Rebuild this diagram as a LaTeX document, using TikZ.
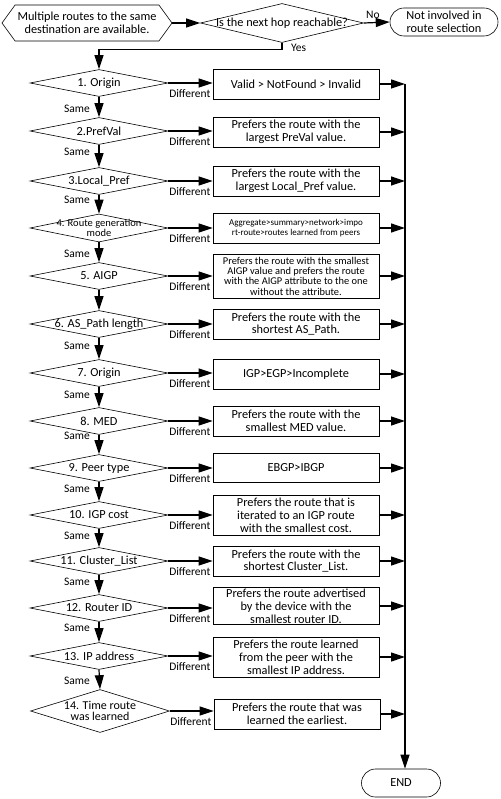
\documentclass[tikz,border=0pt]{standalone}
\usepackage{fontspec}
\setmainfont{Carlito}
\usetikzlibrary{shapes.geometric,shapes.symbols,arrows.meta}

\tikzset{
    every node/.append style={font=\fontsize{12.3}{12.8}\selectfont},
    decision/.style={diamond, draw, line width=0.6pt, minimum width=138pt,
        minimum height=27pt, inner sep=0pt},
    dtext/.style={align=center, inner sep=0pt},
    result/.style={rectangle, draw, line width=0.6pt, minimum width=166pt,
        minimum height=30pt, align=center, inner sep=0pt},
    terminal/.style={rectangle, rounded corners=14pt, draw, line width=0.6pt,
        minimum height=28pt, align=center, inner sep=0pt},
    arr/.style={line width=1.2pt, -{Triangle[length=14pt,width=9pt]}},
    tag/.style={inner sep=0pt, font=\fontsize{11.5}{12}\selectfont},
}

\begin{document}
\begin{tikzpicture}[x=1pt, y=-1pt]
    \useasboundingbox (0,0) rectangle (500,799);

    % start and reachability check
    \node[signal, signal to=west and east, signal pointer angle=108, draw,
        line width=0.6pt, minimum width=170pt, minimum height=36pt,
        inner sep=0pt, align=center] (start) at (87,23)
        {Multiple routes to the same\\destination are available.};
    \node[decision, minimum width=163pt, minimum height=39pt,
        label={[dtext]center:Is the next hop reachable?}] (hop) at (282,23) {};
    \node[terminal, minimum width=108pt] (skip) at (444,22)
        {Not involved in\\route selection};

    % decisions
    \node[decision, label={[dtext]center:1. Origin}] (d1) at (99,83) {};
    \node[decision, label={[dtext]center:2.PrefVal}] (d2) at (99,131) {};
    \node[decision, label={[dtext]center:3.Local\_Pref}] (d3) at (99,181) {};
    \node[decision, minimum height=28pt, label={[dtext, font=\fontsize{10.5}{9.2}\selectfont]center:4. Route generation\\mode}] (d4) at (99,228) {};
    \node[decision, label={[dtext]center:5. AIGP}] (d5) at (99,276) {};
    \node[decision, label={[dtext]center:6. AS\_Path length}] (d6) at (99,324) {};
    \node[decision, label={[dtext]center:7. Origin}] (d7) at (99,373) {};
    \node[decision, label={[dtext]center:8. MED}] (d8) at (99,421) {};
    \node[decision, label={[dtext]center:9. Peer type}] (d9) at (99,468) {};
    \node[decision, label={[dtext]center:10. IGP cost}] (d10) at (99,515) {};
    \node[decision, label={[dtext]center:11. Cluster\_List}] (d11) at (99,561) {};
    \node[decision, label={[dtext]center:12. Router ID}] (d12) at (99,608) {};
    \node[decision, label={[dtext]center:13. IP address}] (d13) at (99,656) {};
    \node[decision, minimum width=139pt, minimum height=43pt, label={[dtext, font=\fontsize{12}{11.2}\selectfont]center:14. Time route\\was learned}] (d14) at (100,711) {};

    \draw[arr] (start.east) -- (hop.west);
    \draw[arr] (hop.east) -- (skip.west) node[tag, pos=0.35, above=3pt] (no) {No};
    \draw[arr] (hop.south) -- ++(0,7) -| (d1.north);
    \node[tag, anchor=north west] (yes) at ([xshift=9pt,yshift=-1pt]hop.south) {Yes};

    % results
    \node[result] (b1) at (296,84) {Valid > NotFound > Invalid};
    \node[result] (b2) at (296,132) {Prefers the route with the\\largest PreVal value.};
    \node[result] (b3) at (296,181) {Prefers the route with the\\largest Local\_Pref value.};
    \node[result, font=\fontsize{9}{10.7}\selectfont] (b4) at (296,228)
        {Aggregate>summary>network>impo\\rt-route>routes learned from peers};
    \node[result, minimum height=44pt, font=\fontsize{10.4}{10.3}\selectfont] (b5) at (296,276)
        {Prefers the route with the smallest\\AIGP value and prefers the route\\with the AIGP attribute to the one\\without the attribute.};
    \node[result] (b6) at (296,324) {Prefers the route with the\\shortest AS\_Path.};
    \node[result] (b7) at (296,374) {IGP>EGP>Incomplete};
    \node[result] (b8) at (296,421) {Prefers the route with the\\smallest MED value.};
    \node[result, minimum height=29pt] (b9) at (296,468) {EBGP>IBGP};
    \node[result, minimum height=40pt] (b10) at (296,515) {Prefers the route that is\\iterated to an IGP route\\with the smallest cost.};
    \node[result] (b11) at (296,561) {Prefers the route with the\\shortest Cluster\_List.};
    \node[result, minimum height=37pt] (b12) at (296,606) {Prefers the route advertised\\by the device with the\\smallest router ID.};
    \node[result, minimum height=40pt] (b13) at (296,657) {Prefers the route learned\\from the peer with the\\smallest IP address.};
    \node[result] (b14) at (297,714) {Prefers the route that was\\learned the earliest.};

    \node[terminal, minimum width=79pt] (end) at (401,783) {END};
    \coordinate (bus) at (405,84);

    % connectors
    \foreach \a/\b in {1/2,2/3,3/4,4/5,5/6,6/7,7/8,8/9,9/10,10/11,11/12,12/13,13/14}
        \draw[arr] (d\a.south) -- (d\b.north);
    \foreach \i in {1,...,14}
    {
        \draw[arr] (d\i.east) -- (d\i.east -| b\i.west);
        \node[tag, anchor=north east] (diff\i) at ([xshift=-2pt,yshift=-6pt]d\i.east -| b\i.west) {Different};
        \draw[arr] (b\i.east) -- (b\i.east -| bus);
    }
    \draw[arr] (bus) -- (bus |- end.north);

    \foreach \y in {109,152,200,254,346,395,436,489,536,582,628,681}
        \node[tag, anchor=east] (same\y) at (90,\y) {Same};

\end{tikzpicture}
\end{document}
